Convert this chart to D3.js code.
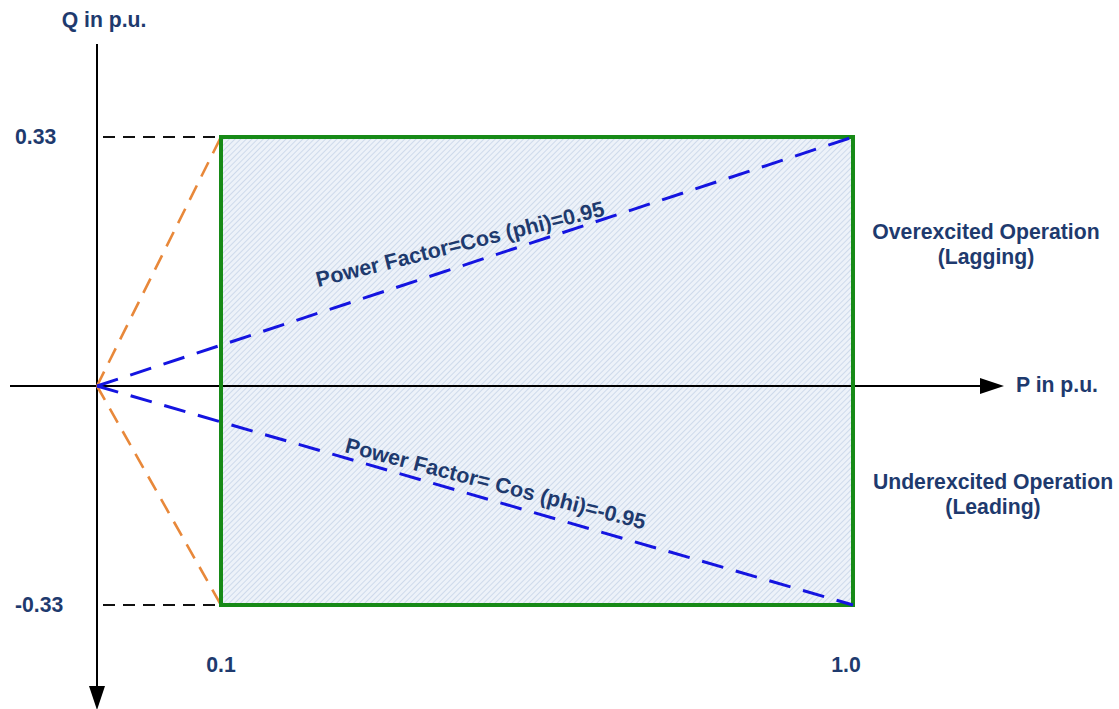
<!DOCTYPE html>
<html>
<head>
<meta charset="utf-8">
<script src="https://cdn.jsdelivr.net/npm/d3@7"></script>
<style>
  html, body { margin: 0; padding: 0; background: #ffffff; }
  svg { display: block; }
  text { font-family: "Liberation Sans", Arial, sans-serif; font-weight: bold; fill: #1e3a6e; }
</style>
</head>
<body>
<svg id="chart" width="1119" height="709"></svg>
<script>
// ---- data ----
const pKnots = [0, 0.1, 1.0];           // P axis anchor values (p.u.)
const qKnots = [-0.33, 0, 0.33];        // Q axis anchor values (p.u.)
const pTicks = [0.1, 1.0];
const pTickLabels = ["0.1", "1.0"];
const qTicks = [0.33, -0.33];
const qTickLabels = ["0.33", "-0.33"];
const operatingP = [0.1, 1.0];          // P range of the operating region
const operatingQ = [-0.33, 0.33];       // Q range of the operating region
const pfLines = [                       // power-factor limit lines from origin
  { p: 1.0, q: 0.33, label: "Power Factor=Cos (phi)=0.95" },
  { p: 1.0, q: -0.33, label: "Power Factor= Cos (phi)=-0.95" }
];
const minPLines = [ { p: 0.1, q: 0.33 }, { p: 0.1, q: -0.33 } ];
const regionLabels = [
  { q: 0.33, lines: ["Overexcited Operation", "(Lagging)"] },
  { q: -0.33, lines: ["Underexcited Operation", "(Leading)"] }
];

// ---- layout ----
const FS = 21.2;
const svg = d3.select("#chart");
const x = d3.scaleLinear().domain(pKnots).range([97, 221, 853]);
const y = d3.scaleLinear().domain(qKnots).range([605, 386, 137]);

const defs = svg.append("defs");
const pat = defs.append("pattern")
  .attr("id", "hatch").attr("patternUnits", "userSpaceOnUse")
  .attr("width", 4).attr("height", 4)
  .attr("patternTransform", "rotate(45)");
pat.append("rect").attr("width", 4).attr("height", 4).attr("fill", "#edf2f9");
pat.append("line").attr("x1", 0).attr("y1", 0).attr("x2", 0).attr("y2", 4)
  .attr("stroke", "#c6d4e8").attr("stroke-width", 1.6);

["arrowR", "arrowD"].forEach(id => {
  defs.append("marker").attr("id", id)
    .attr("viewBox", "0 0 24 16").attr("refX", 2).attr("refY", 8)
    .attr("markerWidth", 24).attr("markerHeight", 16)
    .attr("markerUnits", "userSpaceOnUse").attr("orient", "auto")
    .append("path").attr("d", "M0,0 L24,8 L0,16 Z").attr("fill", "#000");
});

// operating region fill
svg.append("rect")
  .attr("x", x(operatingP[0])).attr("y", y(operatingQ[1]))
  .attr("width", x(operatingP[1]) - x(operatingP[0]))
  .attr("height", y(operatingQ[0]) - y(operatingQ[1]))
  .attr("fill", "url(#hatch)");

// axes
svg.append("line")
  .attr("x1", 10).attr("y1", y(0)).attr("x2", 982).attr("y2", y(0))
  .attr("stroke", "#000").attr("stroke-width", 2)
  .attr("marker-end", "url(#arrowR)");
svg.append("line")
  .attr("x1", x(0)).attr("y1", 44).attr("x2", x(0)).attr("y2", 688)
  .attr("stroke", "#000").attr("stroke-width", 2)
  .attr("marker-end", "url(#arrowD)");

// black dashed guides to Q limits
svg.selectAll(".guide").data(qTicks).join("line")
  .attr("class", "guide")
  .attr("x1", x(0) + 6).attr("x2", x(operatingP[0]))
  .attr("y1", d => y(d)).attr("y2", d => y(d))
  .attr("stroke", "#111").attr("stroke-width", 1.9)
  .attr("stroke-dasharray", "12,8");

// orange dashed lines to min-P corners
svg.selectAll(".minp").data(minPLines).join("line")
  .attr("class", "minp")
  .attr("x1", x(0)).attr("y1", y(0))
  .attr("x2", d => x(d.p)).attr("y2", d => y(d.q))
  .attr("stroke", "#e8883a").attr("stroke-width", 2.6)
  .attr("stroke-dasharray", "16,10");

// green operating region border
svg.append("rect")
  .attr("x", x(operatingP[0])).attr("y", y(operatingQ[1]))
  .attr("width", x(operatingP[1]) - x(operatingP[0]))
  .attr("height", y(operatingQ[0]) - y(operatingQ[1]))
  .attr("fill", "none").attr("stroke", "#178a17").attr("stroke-width", 4);

// blue dashed power-factor lines
svg.selectAll(".pf").data(pfLines).join("line")
  .attr("class", "pf")
  .attr("x1", x(0)).attr("y1", y(0))
  .attr("x2", d => x(d.p)).attr("y2", d => y(d.q))
  .attr("stroke", "#1414e0").attr("stroke-width", 3)
  .attr("stroke-dasharray", "22,13");

// power-factor labels
const pfLabelPos = [ { px: 318, py: 287, rot: -14 }, { px: 344, py: 452, rot: 14.5 } ];
svg.selectAll(".pflabel").data(pfLines).join("text")
  .attr("class", "pflabel")
  .attr("transform", (d, i) => `translate(${pfLabelPos[i].px},${pfLabelPos[i].py}) rotate(${pfLabelPos[i].rot})`)
  .attr("font-size", 21.5)
  .text(d => d.label);

// tick labels
svg.selectAll(".qtick").data(qTicks).join("text")
  .attr("class", "qtick")
  .attr("x", 15).attr("y", d => y(d) + 7)
  .attr("font-size", FS)
  .text((d, i) => qTickLabels[i]);
svg.selectAll(".ptick").data(pTicks).join("text")
  .attr("class", "ptick")
  .attr("x", d => x(d)).attr("dx", (d, i) => i === 1 ? -7 : 0).attr("y", 672)
  .attr("text-anchor", "middle")
  .attr("font-size", FS)
  .text((d, i) => pTickLabels[i]);

// axis titles
svg.append("text").attr("x", 104).attr("y", 27).attr("text-anchor", "middle")
  .attr("font-size", FS).text("Q in p.u.");
svg.append("text").attr("x", 1016).attr("y", 392)
  .attr("font-size", FS).text("P in p.u.");

// region labels
const regionPos = [ { cx: 986, base: 239 }, { cx: 993, base: 489 } ];
regionLabels.forEach((r, i) => {
  const t = svg.append("text").attr("text-anchor", "middle").attr("font-size", FS);
  r.lines.forEach((ln, j) => {
    t.append("tspan").attr("x", regionPos[i].cx).attr("y", regionPos[i].base + j * 25).text(ln);
  });
});
</script>
</body>
</html>
